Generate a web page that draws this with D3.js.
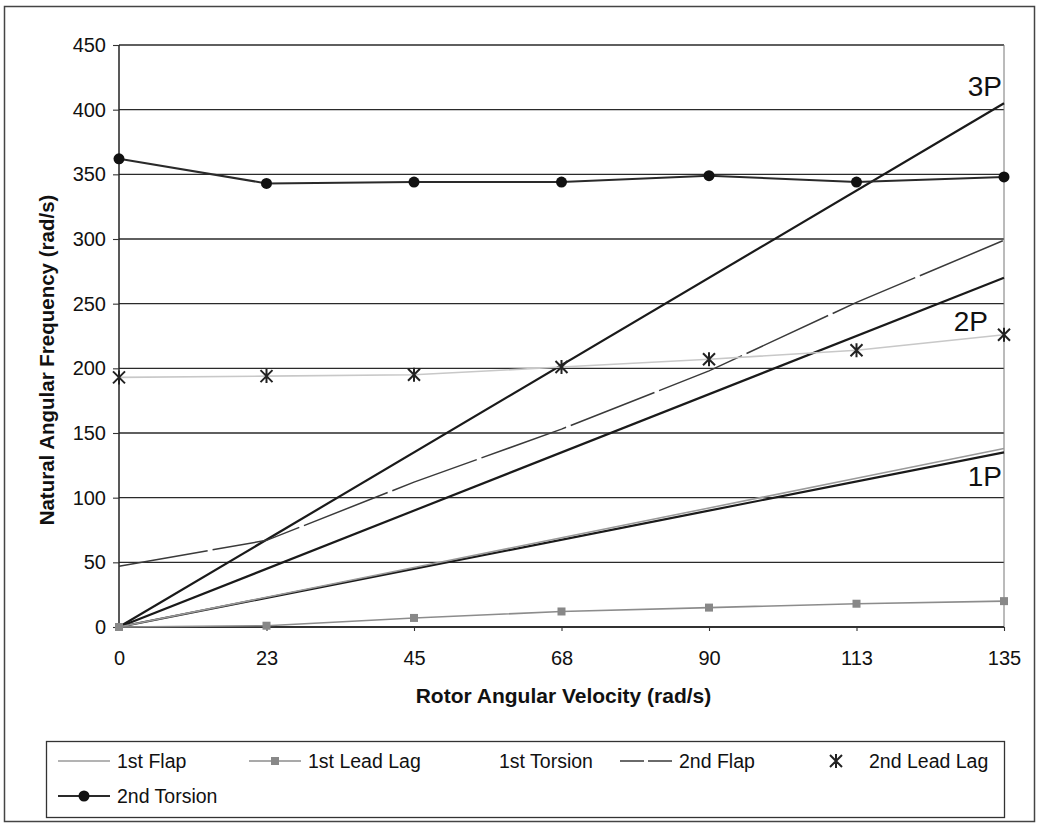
<!DOCTYPE html>
<html><head><meta charset="utf-8">
<script src="https://cdn.jsdelivr.net/npm/d3@7"></script>
<style>
html,body{margin:0;padding:0;background:#fff;}
svg{display:block;font-family:"Liberation Sans",Arial,sans-serif;}
</style></head>
<body>
<svg id="chart" width="1038" height="824"></svg>
<script>
// ---- data ----
const xValues = [0, 22.5, 45, 67.5, 90, 112.5, 135];
const xTickLabels = ["0", "23", "45", "68", "90", "113", "135"];
const yTickValues = [0, 50, 100, 150, 200, 250, 300, 350, 400, 450];
const firstFlap = [0, 23, 46, 69, 92, 115, 138];
const firstLeadLag = [0, 1, 7, 12, 15, 18, 20];
const firstTorsion = [];
const secondFlap = [47, 67, 112, 153, 198, 251, 299];
const secondLeadLag = [193, 194, 195, 201, 207, 214, 226];
const secondTorsion = [362, 343, 344, 344, 349, 344, 348];
const harmonicX = [0, 135];
const harmonicNames = ["1P", "2P", "3P"];
const onePLine = [0, 135];
const twoPLine = [0, 270];
const threePLine = [0, 405];
const legendNames = ["1st Flap", "1st Lead Lag", "1st Torsion", "2nd Flap", "2nd Lead Lag", "2nd Torsion"];

// ---- layout ----
const svg = d3.select("#chart");
const L = 119, R = 1004, T = 45, B = 627;
const x = d3.scaleLinear().domain([0, 135]).range([L, R]);
const y = d3.scaleLinear().domain([0, 450]).range([B, T]);

svg.append("rect").attr("width", 1038).attr("height", 824).attr("fill", "#fff");
svg.append("rect").attr("x", 4.5).attr("y", 6.5).attr("width", 1030).attr("height", 815)
  .attr("fill", "none").attr("stroke", "#444").attr("stroke-width", 1.5);

// gridlines
svg.append("g").selectAll("line").data(yTickValues).join("line")
  .attr("x1", L).attr("x2", R).attr("y1", d => y(d)).attr("y2", d => y(d))
  .attr("stroke", "#2a2a2a").attr("stroke-width", 1.3);
// right border of plot
svg.append("line").attr("x1", R).attr("x2", R).attr("y1", T).attr("y2", B)
  .attr("stroke", "#777").attr("stroke-width", 1);

// axes
const yAxis = d3.axisLeft(y).tickValues(yTickValues).tickSize(6).tickPadding(7).tickFormat(d3.format("d"));
const gy = svg.append("g").attr("transform", `translate(${L},0)`).call(yAxis);
const xAxis = d3.axisBottom(x).tickValues(xValues).tickSize(4).tickPadding(20)
  .tickFormat((d, i) => xTickLabels[i]);
const gx = svg.append("g").attr("transform", `translate(0,${B})`).call(xAxis);
[gx, gy].forEach(g => {
  g.select(".domain").attr("stroke", "#222").attr("stroke-width", 1.5);
  g.selectAll(".tick line").attr("stroke", "#333").attr("stroke-width", 1.1);
  g.selectAll(".tick text").attr("fill", "#111").style("font-size", "20px")
    .style("font-family", '"Liberation Sans",Arial,sans-serif');
});
gx.select(".domain").attr("d", `M${L},0H${R}`);
gy.select(".domain").attr("d", `M0,${B}V${T}`);

// axis titles
svg.append("text").attr("x", (L + R) / 2 + 2).attr("y", 703).attr("text-anchor", "middle")
  .style("font-size", "21px").style("font-weight", "bold").attr("fill", "#111")
  .text("Rotor Angular Velocity (rad/s)");
svg.append("text").attr("transform", "translate(54,360) rotate(-90)").attr("text-anchor", "middle")
  .style("font-size", "20.5px").style("font-weight", "bold").attr("fill", "#111")
  .text("Natural Angular Frequency (rad/s)");

const line = d3.line().x(d => x(d[0])).y(d => y(d[1]));
const pts = arr => arr.map((v, i) => [xValues[i], v]);

// harmonic lines
[onePLine, twoPLine, threePLine].forEach(arr => {
  svg.append("path").attr("d", line(arr.map((v, i) => [harmonicX[i], v])))
    .attr("fill", "none").attr("stroke", "#1a1a1a").attr("stroke-width", 2.2);
});

// series styles
const styles = {
  "1st Flap": {stroke: "#9a9a9a", width: 1.6, dash: null},
  "1st Lead Lag": {stroke: "#8c8c8c", width: 1.6, dash: null},
  "1st Torsion": {stroke: "#ffffff", width: 1.6, dash: null},
  "2nd Flap": {stroke: "#3a3a3a", width: 1.5, dash: "90,5"},
  "2nd Lead Lag": {stroke: "#c8c8c8", width: 1.6, dash: null},
  "2nd Torsion": {stroke: "#2a2a2a", width: 2, dash: null}
};
const seriesData = {
  "1st Flap": firstFlap, "1st Lead Lag": firstLeadLag, "1st Torsion": firstTorsion,
  "2nd Flap": secondFlap, "2nd Lead Lag": secondLeadLag, "2nd Torsion": secondTorsion
};
legendNames.forEach(n => {
  const arr = seriesData[n];
  if (!arr.length) return;
  const s = styles[n];
  svg.append("path").attr("d", line(pts(arr))).attr("fill", "none")
    .attr("stroke", s.stroke).attr("stroke-width", s.width)
    .attr("stroke-dasharray", s.dash);
});

function square(g, cx, cy) {
  g.append("rect").attr("x", cx - 4).attr("y", cy - 4).attr("width", 8).attr("height", 8).attr("fill", "#888");
}
function star(g, cx, cy) {
  const r = 6;
  g.append("path").attr("d", `M${cx - r},${cy - r}L${cx + r},${cy + r}M${cx - r},${cy + r}L${cx + r},${cy - r}M${cx},${cy - r - 1}V${cy + r + 1}`)
    .attr("stroke", "#222").attr("stroke-width", 2).attr("fill", "none");
}
function circle(g, cx, cy) {
  g.append("circle").attr("cx", cx).attr("cy", cy).attr("r", 5.5).attr("fill", "#111");
}
const mk = svg.append("g");
pts(firstLeadLag).forEach(p => square(mk, x(p[0]), y(p[1])));
pts(secondLeadLag).forEach(p => star(mk, x(p[0]), y(p[1])));
pts(secondTorsion).forEach(p => circle(mk, x(p[0]), y(p[1])));

// harmonic labels
const hLabelPos = [[1002, 486], [988, 331], [1002, 96]];
harmonicNames.forEach((n, i) => {
  svg.append("text").attr("x", hLabelPos[i][0]).attr("y", hLabelPos[i][1]).attr("text-anchor", "end")
    .style("font-size", "28px").attr("fill", "#111").text(n);
});

// legend
svg.append("rect").attr("x", 46.5).attr("y", 741.5).attr("width", 958).attr("height", 76)
  .attr("fill", "#fff").attr("stroke", "#333").attr("stroke-width", 1.3);
const legPos = [[58, 761], [249, 761], [440, 761], [620, 761], [810, 761], [58, 796]];
legendNames.forEach((n, i) => {
  const [lx, ly] = legPos[i];
  const s = styles[n];
  const g = svg.append("g");
  if (n !== "2nd Lead Lag") {
    g.append("line").attr("x1", lx).attr("x2", lx + 52).attr("y1", ly).attr("y2", ly)
      .attr("stroke", s.stroke).attr("stroke-width", s.width)
      .attr("stroke-dasharray", n === "2nd Flap" ? "24,4" : null);
  }
  if (n === "1st Lead Lag") square(g, lx + 26, ly);
  if (n === "2nd Lead Lag") star(g, lx + 26, ly);
  if (n === "2nd Torsion") circle(g, lx + 26, ly);
  g.append("text").attr("x", lx + 59).attr("y", ly + 7).style("font-size", "19.5px").attr("fill", "#111").text(n);
});
</script>
</body></html>
